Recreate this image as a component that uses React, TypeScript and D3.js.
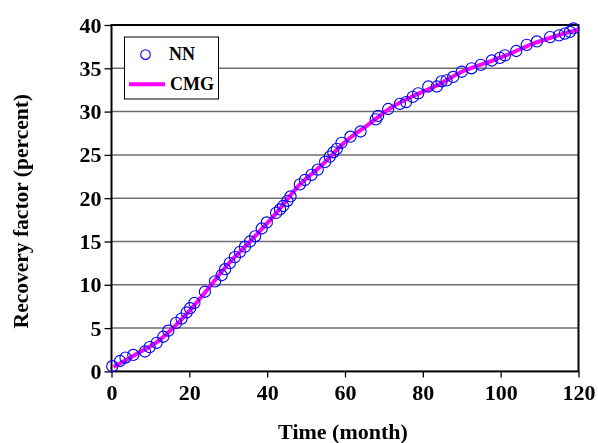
import React, { useEffect, useRef } from "react";
import * as d3 from "d3";

// NN (neural network) predictions
const nnMonths = [
  0.2, 2.2, 3.6, 5.6, 8.6, 9.8, 11.6, 13.3, 14.6, 16.6, 18, 19.3, 20.2, 21.3, 24,
  26.6, 28.3, 29.2, 30.4, 31.7, 33, 34.3, 35.6, 36.9, 38.6, 39.9, 42.3, 43.3,
  44.1, 45.2, 46, 48.4, 49.7, 51.4, 53, 54.9, 56.1, 57, 57.9, 59.1, 61.4, 64,
  67.9, 68.5, 71.1, 74.1, 75.7, 77.4, 78.8, 81.4, 83.6, 84.8, 86.1, 87.8, 90,
  92.5, 94.9, 97.7, 99.8, 101.1, 104, 106.7, 109.3, 112.7, 115, 116.5, 117.8,
  118.7,
];
const nnValues = [
  0.6, 1.2, 1.6, 1.9, 2.3, 2.8, 3.3, 4.0, 4.7, 5.6, 6.1, 6.8, 7.3, 7.9, 9.2,
  10.4, 11.1, 11.8, 12.5, 13.2, 13.8, 14.4, 15.0, 15.6, 16.5, 17.2, 18.3, 18.7,
  19.1, 19.7, 20.2, 21.6, 22.1, 22.7, 23.3, 24.2, 24.8, 25.3, 25.7, 26.4, 27.1,
  27.7, 29.1, 29.5, 30.3, 30.9, 31.1, 31.7, 32.1, 32.9, 32.9, 33.5, 33.6, 34.0,
  34.6, 35.0, 35.4, 35.9, 36.2, 36.5, 37.0, 37.7, 38.1, 38.6, 38.8, 39.0, 39.2,
  39.6,
];

// CMG simulation
const cmgMonths = [0.5, 6, 12, 18, 24, 30, 36, 42, 48, 54, 60, 66, 72, 78, 84, 90, 96, 102, 108, 114, 120];
const cmgValues = [
  0.5, 1.9, 3.5, 6.0, 9.1, 12.4, 15.2, 18.1, 21.4, 23.8, 26.5, 28.5, 30.5, 31.9,
  33.1, 34.6, 35.6, 36.6, 37.8, 38.7, 39.5,
];

const xTicks = [0, 20, 40, 60, 80, 100, 120];
const yTicks = [0, 5, 10, 15, 20, 25, 30, 35, 40];

const FONT = "'Liberation Serif', 'Times New Roman', serif";

const App = () => {
  const ref = useRef<SVGSVGElement>(null);

  useEffect(() => {
    const W = 598,
      H = 443;
    const margin = { top: 25, right: 19.5, bottom: 71.6, left: 111.5 };
    const width = W - margin.left - margin.right,
      height = H - margin.top - margin.bottom;

    const root = d3.select(ref.current);
    root.selectAll("*").remove();
    root.attr("width", W).attr("height", H).style("display", "block");

    const svg = root
      .append("g")
      .attr("transform", `translate(${margin.left},${margin.top})`);

    const x = d3.scaleLinear().domain([0, 120]).range([0, width]);
    const y = d3.scaleLinear().domain([0, 40]).range([height, 0]);

    // horizontal gridlines
    svg
      .selectAll(".grid")
      .data(yTicks.slice(1, -1))
      .enter()
      .append("line")
      .attr("x1", 0)
      .attr("x2", width)
      .attr("y1", (d) => y(d))
      .attr("y2", (d) => y(d))
      .attr("stroke", "#6e6e6e")
      .attr("stroke-width", 1.5);

    // axes
    const xAxis = svg
      .append("g")
      .attr("transform", `translate(0,${height})`)
      .call(d3.axisBottom(x).tickValues(xTicks).tickSize(6).tickPadding(7));
    const yAxis = svg
      .append("g")
      .call(d3.axisLeft(y).tickValues(yTicks).tickSize(7).tickPadding(3));

    [xAxis, yAxis].forEach((a) => {
      a.select(".domain").remove();
      a.selectAll("line").attr("stroke", "#000").attr("stroke-width", 1.3);
      a.selectAll("text")
        .attr("fill", "#000")
        .style("font-family", FONT)
        .style("font-weight", "bold")
        .style("font-size", "22px");
    });

    // plot frame
    svg
      .append("rect")
      .attr("width", width)
      .attr("height", height)
      .attr("fill", "none")
      .attr("stroke", "#000")
      .attr("stroke-width", 2);

    // CMG line
    const line = d3
      .line<number>()
      .x((d, i) => x(cmgMonths[i]))
      .y((d) => y(d))
      .curve(d3.curveMonotoneX);
    svg
      .append("path")
      .datum(cmgValues)
      .attr("d", line)
      .attr("fill", "none")
      .attr("stroke", "#ff00ff")
      .attr("stroke-width", 4);

    // NN markers
    svg
      .selectAll(".nn")
      .data(nnValues)
      .enter()
      .append("circle")
      .attr("cx", (d, i) => x(nnMonths[i]))
      .attr("cy", (d) => y(d))
      .attr("r", 5.6)
      .attr("fill", "none")
      .attr("stroke", "#0000ff")
      .attr("stroke-width", 1.1);

    // legend
    const lg = svg.append("g").attr("transform", "translate(13,12)");
    lg.append("rect")
      .attr("width", 94)
      .attr("height", 62)
      .attr("fill", "#fff")
      .attr("stroke", "#000")
      .attr("stroke-width", 1);
    lg.append("circle")
      .attr("cx", 21)
      .attr("cy", 17.6)
      .attr("r", 4.8)
      .attr("fill", "none")
      .attr("stroke", "#0000ff")
      .attr("stroke-width", 1.1);
    lg.append("line")
      .attr("x1", 4.5)
      .attr("x2", 40.5)
      .attr("y1", 47.3)
      .attr("y2", 47.3)
      .attr("stroke", "#ff00ff")
      .attr("stroke-width", 4);
    lg.selectAll(".lt")
      .data([
        { t: "NN", x: 44.5, y: 22.6 },
        { t: "CMG", x: 45.5, y: 53.3 },
      ])
      .enter()
      .append("text")
      .attr("x", (d) => d.x)
      .attr("y", (d) => d.y)
      .text((d) => d.t)
      .style("font-family", FONT)
      .style("font-weight", "bold")
      .style("font-size", "18px");

    // axis titles
    svg
      .append("text")
      .attr("text-anchor", "middle")
      .attr("x", width / 2 - 2)
      .attr("y", height + 67.6)
      .text("Time (month)")
      .style("font-family", FONT)
      .style("font-weight", "bold")
      .style("font-size", "22px");
    svg
      .append("text")
      .attr("text-anchor", "middle")
      .attr("transform", "rotate(-90)")
      .attr("x", -(height / 2 + 13))
      .attr("y", -margin.left + 28)
      .text("Recovery factor (percent)")
      .style("font-family", FONT)
      .style("font-weight", "bold")
      .style("font-size", "21.5px");
  }, []);

  return (
    <div style={{ position: "fixed", left: 0, top: 0, width: 598, height: 443, overflow: "hidden" }}>
      <svg ref={ref}></svg>
    </div>
  );
};

export default App;
